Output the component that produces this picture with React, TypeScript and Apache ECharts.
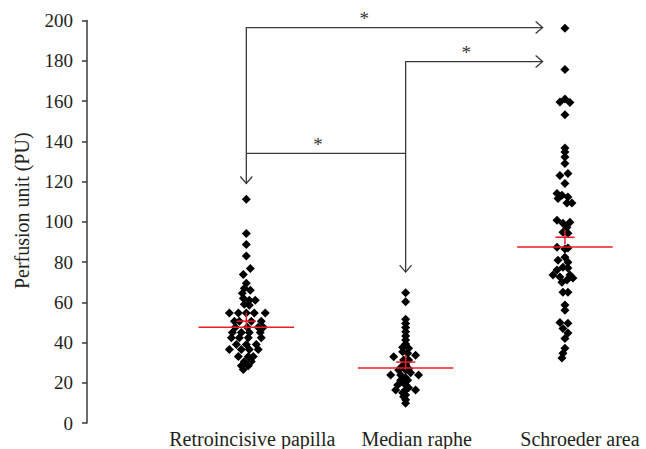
import React, { useEffect, useRef } from "react";
import * as echarts from "echarts";

// ---- data ----
const categories = ["Retroincisive papilla", "Median raphe", "Schroeder area"];
const yTicks = { min: 0, max: 200, interval: 20 };

// Jitter units: 1 unit = 1/160 of the spacing between groups
const retroValues = [
  111.2, 94.1, 88.7, 83.0, 76.8, 73.8, 69.5, 67, 66, 64.5, 62, 61, 61, 59, 58.5,
  54.6, 54.6, 54.6, 54.6, 54.6, 50.6, 50.6, 50.6, 50.6, 47.6, 47.6, 47.6, 47.6,
  45, 45, 45, 45, 42.4, 42.4, 42.4, 42.4, 39, 39, 39, 36.5, 36.5, 36.5, 36.5,
  33, 33, 33, 30.5, 30.5, 28.5, 28.5, 26.6,
];
const retroJitter = [
  0, 0, 0, 0, 4, -3, 0, -2, 4, -4, -3, 3, 9, -2, 3,
  -17, -8, 0, 8, 19, -12, -7, 5, 15, -11, 1, 12, 17,
  -14, -5, 3, 14, -15, -7, 2, 15, -10, 0, 10, -17, -5, 3, 12,
  -8, 2, 7, -2, 5, -5, 2, -3,
];

const raphaeValues = [
  64.7, 60.2, 51.5, 49.5, 47.5, 45.3, 43.2, 41.2, 39.2, 37.6, 37.2, 35.4, 34.7,
  33.7, 32.9, 31.3, 31.3, 29, 28, 27, 26.3, 26.3, 25, 23.8, 23.8, 23.8, 22.5,
  21.3, 21.3, 20, 18.9, 18.9, 17.5, 16.4, 16.4, 16.4, 15, 13.9, 13, 11.5, 9.8,
];
const raphaeJitter = [
  0, 0, 0, 0, 0, 0, 0, 0, 0, -3, 3, -3, 2,
  10, -12, -2, 3, 0, -4, 3, -7, 0, 5, -15, -5, 13, 0,
  -5, 2, -2, -8, 0, 3, -10, 0, 10, -3, 0, -2, 0, 0,
];

const schroederValues = [
  196.2, 175.7, 161.0, 159.5, 159.3, 153.2, 136.6, 134.6, 132.2, 128.9,
  124, 123, 119, 114, 113.2, 112.3, 111.5, 109.3, 109.3,
  100.7, 99.7, 99.2, 97.3, 94.8, 94.3,
  87.3, 86.5, 86.9, 82.4, 80.9, 79.9, 77.4, 77, 76,
  73.5, 73.5, 72.5, 72, 71, 70,
  65, 65, 58.6, 56,
  50, 49.6, 47, 44.7, 42, 37.2, 34.7, 32.3,
];
const schroederJitter = [
  0, 0, 0, -5, 5, 0, 0, 0, 0, 0,
  3, -5, 0, -8, -3, 3, -7, 2, 7,
  -8, 5, -2, 2, -2, 3,
  -8, 0, 3, 0, -7, 3, -2, 3, -8,
  -12, 5, -5, 8, 2, -3,
  -2, 3, 0, 0,
  -5, 3, -2, 3, 0, 0, -2, -3,
];

const medians = [47.6, 27.3, 87.4];
const means = [50.6, 30.3, 92.3];
const meanErrors = [4, 3.7, 3.5];

// significance brackets: polyline vertices (x in group units, y in PU)
const bracketPaths = [
  [[1, 119], [1, 196.5], [2.86, 196.5]],
  [[2, 75], [2, 179.6], [2.86, 179.6]],
  [[1, 134], [2, 134]],
];
const bracketHasArrows = [true, true, false];
const starPoints = [[1.74, 196.5], [2.38, 179.6], [1.45, 134]];
const starLabel = "*";

const SERIF = "'Liberation Serif', 'Times New Roman', serif";
const JITTER_UNIT = 1 / 160;

function groupData(index: number, values: number[], jitter: number[]) {
  return values.map((v, i) => [index + jitter[i] * JITTER_UNIT, v]);
}

export default function App() {
  const ref = useRef<HTMLDivElement>(null);
  useEffect(() => {
    document.body.style.margin = "0";
    const chart = echarts.init(ref.current!, undefined, { renderer: "svg" });

    const points = [
      ...groupData(1, retroValues, retroJitter),
      ...groupData(2, raphaeValues, raphaeJitter),
      ...groupData(3, schroederValues, schroederJitter),
    ];

    const option: any = {
      animation: false,
      backgroundColor: "#ffffff",
      grid: {
        left: 87,
        top: 20.5,
        width: 557.6,
        height: 402.5,
        containLabel: false,
        outerBoundsMode: "none",
      },
      xAxis: {
        type: "value",
        min: 0,
        max: 3.5,
        interval: 1,
        axisLine: { show: false },
        axisTick: { show: false },
        splitLine: { show: false },
        axisLabel: {
          margin: 6,
          showMinLabel: false,
          showMaxLabel: false,
          formatter: (v: number) =>
            Number.isInteger(v) && v >= 1 && v <= 3 ? `{c${v}|${categories[v - 1]}}` : "",
          rich: {
            c1: { fontFamily: SERIF, fontSize: 20, color: "#231f20", padding: [0, 0, 0, 12] },
            c2: { fontFamily: SERIF, fontSize: 20, color: "#231f20", padding: [0, 0, 0, 22] },
            c3: { fontFamily: SERIF, fontSize: 20, color: "#231f20", padding: [0, 0, 0, 30] },
          },
        },
      },
      yAxis: {
        type: "value",
        min: yTicks.min,
        max: yTicks.max,
        interval: yTicks.interval,
        name: "Perfusion unit (PU)",
        nameLocation: "middle",
        nameGap: 55,
        nameTextStyle: { fontFamily: SERIF, fontSize: 20, color: "#231f20", padding: [0, 0, 0, 22] },
        axisLine: { show: true, lineStyle: { color: "#3a3a3a", width: 1.5 } },
        axisTick: { show: true, length: 5, lineStyle: { color: "#3a3a3a", width: 1.5 } },
        splitLine: { show: false },
        axisLabel: { fontFamily: SERIF, fontSize: 19, color: "#231f20", margin: 14 },
      },
      series: [
        {
          type: "scatter",
          data: points,
          symbol: "diamond",
          symbolSize: 9,
          itemStyle: { color: "#000000", opacity: 1 },
          z: 2,
        },
        {
          type: "custom",
          z: 3,
          clip: false,
          data: medians.map((m, i) => [i + 1, m, means[i], meanErrors[i]]),
          renderItem: (params: any, api: any) => {
            const c = api.value(0);
            const med = api.value(1);
            const mean = api.value(2);
            const err = api.value(3);
            const a = api.coord([c - 0.3, med]);
            const b = api.coord([c + 0.3, med]);
            const h1 = api.coord([c - 0.06, mean]);
            const h2 = api.coord([c + 0.06, mean]);
            const v1 = api.coord([c, mean - err]);
            const v2 = api.coord([c, mean + err]);
            const st = { stroke: "#ee1c25", lineWidth: 1.5 };
            return {
              type: "group",
              children: [
                { type: "line", shape: { x1: a[0], y1: a[1], x2: b[0], y2: b[1] }, style: st },
                { type: "line", shape: { x1: h1[0], y1: h1[1], x2: h2[0], y2: h2[1] }, style: st },
                { type: "line", shape: { x1: v1[0], y1: v1[1], x2: v2[0], y2: v2[1] }, style: st },
              ],
            };
          },
        },
        {
          type: "custom",
          z: 4,
          clip: false,
          data: bracketPaths.map((_, i) => [i]),
          renderItem: (params: any, api: any) => {
            const i = params.dataIndex;
            const pts = bracketPaths[i].map((p) => api.coord(p));
            const stroke = { stroke: "#3a3a3a", lineWidth: 1.3, fill: null };
            const children: any[] = [
              { type: "polyline", shape: { points: pts }, style: stroke },
            ];
            const head = (tip: number[], from: number[]) => {
              const dx = tip[0] - from[0];
              const dy = tip[1] - from[1];
              const len = Math.hypot(dx, dy) || 1;
              const ux = dx / len, uy = dy / len;
              const nx = -uy, ny = ux;
              const L = 7, W = 6;
              return {
                type: "polyline",
                shape: {
                  points: [
                    [tip[0] - ux * L + nx * W, tip[1] - uy * L + ny * W],
                    tip,
                    [tip[0] - ux * L - nx * W, tip[1] - uy * L - ny * W],
                  ],
                },
                style: stroke,
              };
            };
            if (bracketHasArrows[i]) {
              children.push(head(pts[0], pts[1]));
              children.push(head(pts[pts.length - 1], pts[pts.length - 2]));
            }
            const sp = api.coord(starPoints[i]);
            children.push({
              type: "text",
              x: sp[0],
              y: sp[1] - 9,
              style: {
                text: starLabel,
                fontFamily: SERIF,
                fontSize: 19,
                fill: "#333333",
                align: "center",
                verticalAlign: "middle",
              },
            });
            return { type: "group", children };
          },
        },
      ],
    };
    chart.setOption(option);
    return () => chart.dispose();
  }, []);
  return <div ref={ref} style={{ width: 646, height: 449 }} />;
}
